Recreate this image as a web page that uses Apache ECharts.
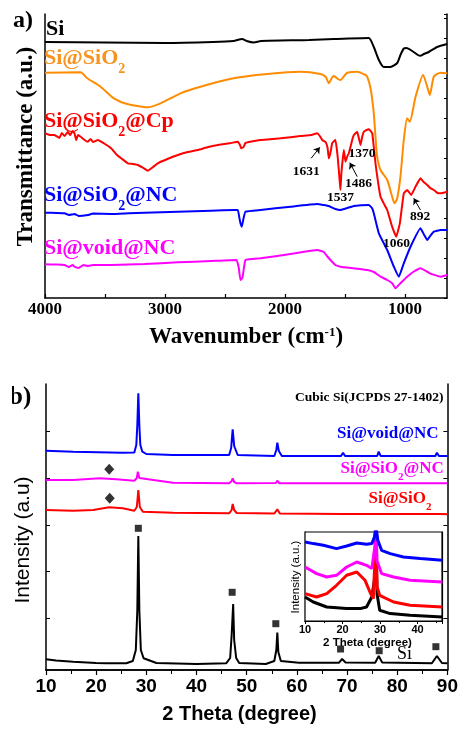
<!DOCTYPE html>
<html>
<head>
<meta charset="utf-8">
<script src="https://cdn.jsdelivr.net/npm/echarts@6.0.0/dist/echarts.min.js"></script>
<style>
  html, body { margin: 0; padding: 0; background: #fff; }
  #main { width: 461px; height: 729px; }
</style>
</head>
<body>
<div id="main"></div>
<script>
// ---- panel a: FTIR, [wavenumber, transmittance (offset a.u.)] ----
const ftirTicks = [1000, 1500, 2000, 2500, 3000, 3500, 4000];
const ftirLabels = [1000, 2000, 3000, 4000];

const ftirSi = [[4000,256],[3500,255.5],[3000,255],[2600,256],[2430,257],[2357,259],[2320,257],[2260,255.5],[2200,257],
  [1800,258],[1593,259],[1302,260],[1260,251],[1218,238],[1177,231],[1121,231],[1065,235],[1038,243],[1010,249.5],
  [987,250],[940,247],[885,242.5],[871,242.3],[843,244],[802,246],[732,251],[648,254]];

const ftirSiO2 = [[4000,225.3],[3704,225.7],[3648,219.7],[3537,211.3],[3426,199.7],[3315,194],[3148,190.7],[3037,194.7],
  [2871,204.7],[2704,211.3],[2429,219.7],[2148,224],[1871,226.3],[1704,224],[1660,221],[1635,214.7],[1610,220],[1593,222],
  [1560,219],[1538,218],[1500,223],[1482,225.3],[1398,226.3],[1329,223],[1315,221.3],[1287,209.7],[1260,184.7],[1246,161.3],
  [1232,141.3],[1204,128],[1148,118],[1107,101.3],[1088,94.7],[1065,99.7],[1038,121.3],[1010,158],[982,179.7],[960,176.3],
  [912,201.3],[849,223],[815,211.3],[793,203],[760,221.3],[704,225.3],[648,224.7]];

const ftirCp = [[4000,164.7],[3960,163],[3921,163],[3880,160],[3860,165],[3837,162],[3810,166],[3790,163],[3770,167],
  [3754,164.7],[3740,158],[3725,163],[3700,161],[3670,158],[3643,156.3],[3620,159],[3600,156],[3560,158],[3500,154],
  [3449,149.7],[3400,143],[3365,139.7],[3310,134.7],[3270,134],[3227,133],[3180,130],[3143,127.3],[3100,131],[3060,134.7],
  [2980,139],[2893,143],[2810,146],[2727,148],[2640,151],[2560,153],[2450,155],[2393,156.3],[2375,153],[2365,149.7],
  [2345,151],[2330,155],[2300,156],[2204,158],[2037,159.7],[1871,162],[1780,163],[1732,164.7],[1710,162],[1690,158],
  [1662,156],[1645,150],[1635,139.7],[1620,146],[1607,154.7],[1590,157],[1579,158],[1560,140],[1545,118],[1538,108],
  [1530,125],[1510,148],[1496,136.3],[1480,142],[1468,144.7],[1440,158],[1426,163],[1398,166.3],[1385,160],[1371,153],
  [1355,162],[1343,166.3],[1320,168],[1301,168.7],[1273,164.7],[1246,134.7],[1204,101.3],[1170,93],[1148,88],[1107,71.3],
  [1073,61.3],[1043,74.7],[1010,104.7],[982,108],[948,103],[910,112],[871,119.7],[845,116],[815,113],[790,110],[760,108],
  [730,105],[704,104.7],[648,106.3]];

const ftirNC = [[4000,85.3],[3900,85],[3837,84.7],[3800,83],[3754,84],[3720,82],[3643,83],[3600,84.5],[3449,84],[3300,84.8],
  [3171,85.3],[2893,86.3],[2616,87.3],[2421,88],[2393,88],[2380,80],[2371,74.7],[2360,71.3],[2345,80],[2329,86.3],[2204,88],
  [1954,91.3],[1732,94],[1680,93],[1635,92],[1580,89],[1538,88],[1480,90],[1426,92],[1301,93],[1275,90],[1260,84.7],
  [1218,64.7],[1148,48],[1093,31.3],[1051,21.3],[1010,34.7],[954,51.3],[871,69.7],[840,63],[815,58],[790,62],[760,66.3],
  [704,68],[648,68]];

const ftirVoid = [[4000,33.7],[3900,33.5],[3837,33],[3800,31],[3770,33],[3754,31.3],[3720,30],[3680,33],[3643,32],[3600,33],
  [3449,33],[3171,34],[2893,35.7],[2616,37],[2404,38],[2385,30],[2371,18],[2355,20],[2340,32],[2329,38],[2204,39.7],
  [1954,44],[1732,48],[1700,47],[1676,46],[1650,42],[1621,38],[1580,33],[1538,31.3],[1426,29.7],[1315,28],[1260,26],
  [1204,21.3],[1148,18],[1107,14.7],[1079,9.7],[1060,12],[1038,14.7],[982,21.3],[920,27],[871,29.7],[793,24.7],[704,21.3],
  [648,23]];

// arrows for the peak notes: [tail, head]
const ftirArrows = [[[1782,139.7],[1710,150.7]], [[1398,121.3],[1460,135.3]], [[871,88],[927,99.7]]];

// ---- panel b: XRD, [2theta, intensity (offset a.u.)] ----
const xrdSi = [[10,10.7],[12,9.5],[15.4,8.3],[20,7],[22,6.7],[26,6.7],[27.3,9],[27.9,20],[28.2,60],[28.4,134],[28.6,60],
  [28.9,20],[29.45,11.7],[32,7],[40,6],[45.9,6.7],[46.7,12],[47.0,35],[47.3,66],[47.5,30],[47.9,12],[48.5,7],[53.8,6],
  [55.5,9],[55.9,20],[56.1,37.5],[56.3,18],[56.8,9],[60.4,7.3],[68.4,7.3],[69.0,11],[69.7,7.5],[75.6,7.3],[76.3,14],
  [77.0,7.5],[86.9,6.7],[87.9,14],[88.9,7],[90,6.7]];

const xrdSiO2 = [[10,160],[15.4,159.3],[19.4,160],[22.6,162.7],[25.3,161.7],[27.6,159.3],[28.1,163],[28.4,180],[28.7,163],
  [29.3,158.3],[35.3,157.3],[46.5,156.7],[47.0,160],[47.2,166],[47.5,160],[48,157],[55.5,156.5],[56.1,160.7],[56.6,156.5],
  [69,156],[69.2,157.5],[69.5,156],[88.1,156],[88.3,158],[88.6,156],[90,155.7]];

const xrdSiO2NC = [[10,190],[15.4,190],[20.7,191.7],[24,190.7],[27.6,189.3],[28.1,192],[28.3,198.3],[28.6,192],[28.8,190],
  [35.3,187.3],[46.5,186.7],[47.0,189],[47.2,191.7],[47.5,188],[48,186.7],[55.8,187],[56.1,189.3],[56.5,186.7],[69,186.7],
  [69.2,187.8],[69.5,186.7],[76.1,186.7],[76.3,187.8],[76.6,186.7],[87.8,186.7],[88,187.8],[88.3,186.7],[90,186.7]];

const xrdVoid = [[10,219.3],[15.4,218.3],[25.3,217.3],[27.6,217.5],[28.0,225],[28.2,245],[28.4,276.7],[28.6,245],[28.8,225],
  [29.2,218.3],[30,216],[35.3,215],[46.5,215],[46.9,222],[47.2,240.7],[47.5,224],[48.2,215],[55.5,214],[55.9,220],
  [56.1,227.3],[56.4,219],[57,214],[68.8,214],[69.2,217.3],[69.6,214],[76,214],[76.3,218.3],[76.7,214],[87.6,214],
  [87.9,217.3],[88.3,214],[90,214]];

const siO2Marks = [[22.6,200.7],[22.7,171.7]];
const siMarks = [[28.4,141.7],[47.1,77.7],[55.8,46.3],[68.7,21],[76.4,19.3],[87.7,23.3]];
const xrdSideTicks = [51.7, 98.3, 145, 191.7, 238.3];

// ---- inset: 10-46 degrees ----
const insVoid = [[10,79],[12.2,77.4],[14.9,75.7],[18.4,72.4],[21.1,75],[23.8,78],[26.4,76.7],[27.8,77.4],[28.5,84],
  [28.9,95],[29.4,80.7],[30.4,70.7],[32.7,67.4],[36.2,64],[40.7,62.4],[46.6,60.7]];
const insSiO2NC = [[10,54],[13.1,47.4],[15.8,44],[18.4,45.7],[21.1,54],[23.8,59],[26.4,55.7],[27.8,52.4],[28.6,74],
  [28.9,95],[29.2,60],[30.4,47.4],[33.6,44],[38,40.7],[46.6,39]];
const insSiO2 = [[10,27.4],[13.1,24],[15.8,27.4],[18.4,35.7],[21.1,45.7],[23.8,49],[26,40.7],[27.3,29],[28.2,22.4],
  [28.9,87.4],[29.2,34],[29.9,25.7],[33.6,19],[38,15.7],[46.6,14]];
const insSi = [[10,24],[12.2,19],[15.8,14],[21.1,12.4],[24.7,12.4],[26.4,14],[27.8,24],[28.5,40.7],[28.9,84],[29.2,27],
  [29.9,10.7],[32.7,7.4],[38,5.7],[46.6,4]];
const insSideTicks = [11, 33, 55, 77];

const serif = '"Liberation Serif", "Times New Roman", serif';
const sans = '"Liberation Sans", Arial, sans-serif';
const cOrange = '#F7931E';

function line(data, color, xi, yi, width, smooth) {
  return { type: 'line', data: data, xAxisIndex: xi, yAxisIndex: yi, symbol: 'none', smooth: smooth,
    lineStyle: { color: color, width: width }, animation: false, z: 3 };
}

// bold serif label; y is the top of the main text, "s" tokens are pushed down by top padding
function lbl(x, y, text, size, color, align) {
  return { type: 'text', x: x, y: y + size / 2, z: 20, style: { text: text, align: align || 'left', verticalAlign: 'middle',
    rich: {
      m: { fontFamily: serif, fontWeight: 'bold', fontSize: size, fill: color },
      s: { fontFamily: serif, fontWeight: 'bold', fontSize: Math.round(size * 0.62), padding: [size, 0, 0, 0], fill: color }
    } } };
}

function vtext(x, y, text, font) {
  return { type: 'text', x: x, y: y, rotation: Math.PI / 2, z: 20,
    style: { text: text, font: font, fill: '#000', align: 'center', verticalAlign: 'middle' } };
}

const blackLine = { lineStyle: { color: '#000', width: 1.5 } };
const plain = v => String(v);

const chart = echarts.init(document.getElementById('main'), null, { renderer: 'canvas' });
chart.setOption({
  animation: false,
  backgroundColor: '#fff',
  grid: [
    { left: 45, top: 14, width: 402, height: 284 },
    { left: 46, top: 384, width: 403, height: 286 },
    { left: 305, top: 532, width: 137, height: 89, show: true, backgroundColor: '#fff', borderColor: '#000', borderWidth: 1.2, z: 5 }
  ],
  xAxis: [
    { gridIndex: 0, type: 'value', min: 650, max: 4000, inverse: true, position: 'bottom',
      axisLine: blackLine, splitLine: { show: false },
      axisTick: { inside: true, length: 4, customValues: ftirTicks, lineStyle: { color: '#000', width: 1.2 } },
      axisLabel: { customValues: ftirLabels, formatter: plain, margin: 3, color: '#000', fontFamily: serif, fontWeight: 'bold', fontSize: 17 } },
    { gridIndex: 1, type: 'value', min: 10, max: 90, interval: 10, position: 'bottom',
      axisLine: blackLine, splitLine: { show: false },
      axisTick: { length: 5, lineStyle: { color: '#000', width: 1.2 } },
      minorTick: { show: true, splitNumber: 2, length: 3, lineStyle: { color: '#000' } },
      axisLabel: { formatter: plain, margin: 7, color: '#000', fontFamily: sans, fontWeight: 'bold', fontSize: 19 } },
    { gridIndex: 1, type: 'value', min: 10, max: 90, interval: 10, position: 'top',
      axisLine: blackLine, splitLine: { show: false }, axisLabel: { show: false },
      axisTick: { inside: true, length: 4, lineStyle: { color: '#000' } },
      minorTick: { show: true, splitNumber: 2, length: 4, lineStyle: { color: '#000' } } },
    { gridIndex: 2, type: 'value', min: 10, max: 46.5, interval: 10, position: 'bottom',
      axisLine: { lineStyle: { color: '#000', width: 1.2 } }, splitLine: { show: false },
      axisTick: { inside: true, length: 3, lineStyle: { color: '#000' } },
      minorTick: { show: true, splitNumber: 2, length: 2, lineStyle: { color: '#000' } },
      axisLabel: { formatter: plain, showMaxLabel: false, margin: 3, color: '#000', fontFamily: sans, fontWeight: 'bold', fontSize: 11 } },
    { gridIndex: 2, type: 'value', min: 10, max: 46.5, interval: 10, position: 'top',
      axisLine: { lineStyle: { color: '#000', width: 1.2 } }, splitLine: { show: false }, axisLabel: { show: false },
      axisTick: { inside: true, length: 3, lineStyle: { color: '#000' } },
      minorTick: { show: true, splitNumber: 2, length: 2, lineStyle: { color: '#000' } } }
  ],
  yAxis: [
    { gridIndex: 0, type: 'value', min: 0, max: 284, position: 'left', axisLine: { show: true, lineStyle: { color: '#000', width: 1.5 } },
      axisTick: { show: false }, axisLabel: { show: false }, splitLine: { show: false } },
    { gridIndex: 0, type: 'value', min: 0, max: 284, interval: 20, position: 'right', axisLine: { show: true, lineStyle: { color: '#000', width: 1.5 } },
      axisTick: { inside: true, length: 3, lineStyle: { color: '#000' } }, axisLabel: { show: false }, splitLine: { show: false } },
    { gridIndex: 1, type: 'value', min: 0, max: 286, position: 'left', axisLine: { show: true, lineStyle: { color: '#000', width: 1.5 } },
      axisTick: { inside: true, length: 4, customValues: xrdSideTicks, lineStyle: { color: '#000' } }, axisLabel: { show: false }, splitLine: { show: false } },
    { gridIndex: 1, type: 'value', min: 0, max: 286, position: 'right', axisLine: { show: true, lineStyle: { color: '#000', width: 1.5 } },
      axisTick: { inside: true, length: 4, customValues: xrdSideTicks, lineStyle: { color: '#000' } }, axisLabel: { show: false }, splitLine: { show: false } },
    { gridIndex: 2, type: 'value', min: 0, max: 89, position: 'left', axisLine: { show: true, lineStyle: { color: '#000', width: 1.2 } },
      axisTick: { inside: true, length: 3, customValues: insSideTicks, lineStyle: { color: '#000' } }, axisLabel: { show: false }, splitLine: { show: false } },
    { gridIndex: 2, type: 'value', min: 0, max: 89, position: 'right', axisLine: { show: true, lineStyle: { color: '#000', width: 1.2 } },
      axisTick: { inside: true, length: 3, customValues: insSideTicks, lineStyle: { color: '#000' } }, axisLabel: { show: false }, splitLine: { show: false } }
  ],
  series: [
    line(ftirSi, '#000', 0, 0, 2, 0.2),
    line(ftirSiO2, '#FF8C00', 0, 0, 2, 0.2),
    Object.assign(line(ftirCp, '#FF0000', 0, 0, 2, 0.1), {
      markLine: { silent: true, symbol: ['none', 'arrow'], symbolSize: 6, animation: false,
        lineStyle: { color: '#000', width: 1, type: 'solid' }, label: { show: false },
        data: ftirArrows.map(a => [{ coord: a[0] }, { coord: a[1] }]) } }),
    line(ftirNC, '#0000FF', 0, 0, 2, 0.1),
    line(ftirVoid, '#FF00FF', 0, 0, 2, 0.1),

    line(xrdSi, '#000', 1, 2, 2, false),
    line(xrdSiO2, '#FF0000', 1, 2, 2, false),
    line(xrdSiO2NC, '#FF00FF', 1, 2, 2, false),
    line(xrdVoid, '#0000FF', 1, 2, 2, false),
    { type: 'scatter', xAxisIndex: 1, yAxisIndex: 2, data: siO2Marks, symbol: 'diamond', symbolSize: [10, 11],
      itemStyle: { color: '#000' }, animation: false, z: 4 },
    { type: 'scatter', xAxisIndex: 1, yAxisIndex: 2, data: siMarks, symbol: 'rect', symbolSize: 7,
      itemStyle: { color: '#000' }, animation: false, z: 4 },

    Object.assign(line(insSi, '#000', 3, 4, 3, false), { z: 10 }),
    Object.assign(line(insSiO2, '#FF0000', 3, 4, 3, false), { z: 10 }),
    Object.assign(line(insSiO2NC, '#FF00FF', 3, 4, 3, false), { z: 10 }),
    Object.assign(line(insVoid, '#0000FF', 3, 4, 3, false), { z: 10 })
  ],
  graphic: [
    { type: 'text', x: 13, y: 9, z: 20, style: { text: 'a)', font: 'bold 24px ' + serif, fill: '#000' } },
    { type: 'text', x: 9, y: 385, z: 20, style: { text: 'b)', font: 'bold 25px ' + serif, fill: '#000' } },
    { type: 'rect', shape: { x: 0, y: 0, width: 12, height: 729 }, style: { fill: '#fff' }, z: 30 },

    lbl(46, 18.5, '{m|Si}', 22, '#000'),
    lbl(44, 47.5, '{m|Si@SiO}{s|2}', 22, cOrange),
    lbl(44, 110.5, '{m|Si@SiO}{s|2}{m|@Cp}', 22, '#FF0000'),
    lbl(44, 184.5, '{m|Si@SiO}{s|2}{m|@NC}', 22, '#0000FF'),
    lbl(44, 237, '{m|Si@void@NC}', 22, '#FF00FF'),

    lbl(292.7, 164.3, '{m|1631}', 13.5, '#000'),
    lbl(327, 191, '{m|1537}', 13.5, '#000'),
    lbl(345, 177, '{m|1486}', 13.5, '#000'),
    lbl(348.5, 146.6, '{m|1370}', 13.5, '#000'),
    lbl(410, 210, '{m|892}', 13.5, '#000'),
    lbl(383, 236.6, '{m|1060}', 13.5, '#000'),

    { type: 'text', x: 246, y: 326, z: 20, style: { text: '{m|Wavenumber (cm}{p|-1}{m|)}', align: 'center', verticalAlign: 'top',
      rich: { m: { fontFamily: serif, fontWeight: 'bold', fontSize: 23, lineHeight: 23, verticalAlign: 'top', fill: '#000' },
              p: { fontFamily: serif, fontWeight: 'bold', fontSize: 13, lineHeight: 15, verticalAlign: 'top', fill: '#000' } } } },
    vtext(26, 146.5, 'Transmittance (a.u.)', 'bold 23px ' + serif),

    lbl(443.5, 390.6, '{m|Cubic Si(JCPDS 27-1402)}', 13.5, '#000', 'right'),
    lbl(337, 425.3, '{m|Si@void@NC}', 17, '#0000FF'),
    lbl(340.5, 460.3, '{m|Si@SiO}{s|2}{m|@NC}', 17, '#FF00FF'),
    lbl(368.5, 490.3, '{m|Si@SiO}{s|2}', 17, '#FF0000'),
    { type: 'text', x: 397, y: 644.8, z: 20, style: { text: 'Si', font: '18px ' + serif, fill: '#000', verticalAlign: 'top' } },

    { type: 'text', x: 239.5, y: 704.4, z: 20, style: { text: '2 Theta (degree)', font: 'bold 20px ' + sans, fill: '#000', align: 'center', verticalAlign: 'top' } },
    vtext(23, 540, 'Intensity (a.u)', '21px ' + sans),
    { type: 'text', x: 367.5, y: 636.8, z: 20, style: { text: '2 Theta (degree)', font: 'bold 11.5px ' + sans, fill: '#000', align: 'center', verticalAlign: 'top' } },
    vtext(296, 577, 'Intensity (a.u.)', '11.5px ' + sans)
  ]
});
</script>
</body>
</html>
